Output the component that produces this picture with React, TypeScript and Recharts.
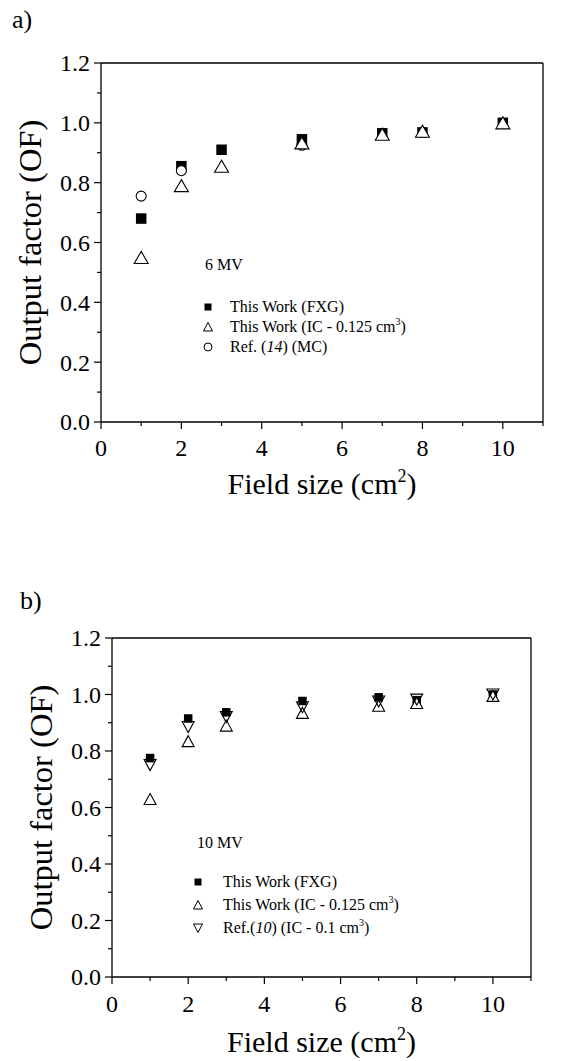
import { ScatterChart, Scatter, XAxis, YAxis, Legend } from 'recharts';

const FONT = 'Liberation Serif, Times New Roman, DejaVu Serif, serif';

// field sizes in cm^2
const fieldSizes = [1, 2, 3, 5, 7, 8, 10];

// a) 6 MV
const fxg6MV = [0.68, 0.855, 0.91, 0.945, 0.965, 0.968, 1.0];
const ic6MV = [0.55, 0.79, 0.855, 0.933, 0.962, 0.972, 1.0];
const mcSizes6MV = [1, 2, 5];
const mc6MV = [0.755, 0.84, 0.925];

// b) 10 MV
const fxg10MV = [0.775, 0.915, 0.937, 0.977, 0.99, 0.98, 1.0];
const ic10MV = [0.63, 0.835, 0.89, 0.935, 0.96, 0.97, 0.995];
const ref10MV = [0.75, 0.885, 0.92, 0.955, 0.975, 0.982, 1.0];

const xTicks = [0, 1, 2, 3, 4, 5, 6, 7, 8, 9, 10, 11];
const yTicks = [0, 0.1, 0.2, 0.3, 0.4, 0.5, 0.6, 0.7, 0.8, 0.9, 1.0, 1.1, 1.2];

const toPoints = (xs: number[], ys: number[]) => xs.map((x, i) => ({ x, y: ys[i] }));

const isMajorX = (v: number) => v % 2 === 0 && v <= 10;
const isMajorY = (v: number) => Math.round(v * 10) % 2 === 0;
const fmtX = (v: number) => String(v);
const fmtY = (v: number) => v.toFixed(1);

type Side = 'top' | 'bottom' | 'left' | 'right';

function makeTick(side: Side, gap: number, isMajor: (v: number) => boolean, fmt: (v: number) => string) {
  return (props: any) => {
    const { x, y, payload } = props;
    const v = payload.value;
    const major = isMajor(v);
    const len = major ? 7 : 4;
    let line;
    let label = null;
    const common = { fontFamily: FONT, fontSize: 24, fill: '#000' };
    if (side === 'bottom') {
      line = <line x1={x} y1={y} x2={x} y2={y + len} stroke="#000" strokeWidth={1.2} />;
      if (major) label = <text x={x} y={y + gap} textAnchor="middle" {...common}>{fmt(v)}</text>;
    } else if (side === 'top') {
      line = <line x1={x} y1={y} x2={x} y2={y - len} stroke="#000" strokeWidth={1.2} />;
      if (major) label = <text x={x} y={y - gap} textAnchor="middle" {...common}>{fmt(v)}</text>;
    } else if (side === 'left') {
      line = <line x1={x} y1={y} x2={x - len} y2={y} stroke="#000" strokeWidth={1.2} />;
      if (major) label = <text x={x - gap} y={y} dy="0.35em" textAnchor="end" {...common}>{fmt(v)}</text>;
    } else {
      line = <line x1={x} y1={y} x2={x + len} y2={y} stroke="#000" strokeWidth={1.2} />;
      if (major) label = <text x={x + gap} y={y} dy="0.35em" textAnchor="start" {...common}>{fmt(v)}</text>;
    }
    return (
      <g>
        {line}
        {label}
      </g>
    );
  };
}

const square = (size: number) => (p: any) => (
  <rect x={p.cx - size / 2} y={p.cy - size / 2} width={size} height={size} fill="#000" />
);
const triUp = (w: number, h: number, fill: string) => (p: any) => (
  <polygon
    points={`${p.cx},${p.cy - h / 2} ${p.cx - w / 2},${p.cy + h / 2} ${p.cx + w / 2},${p.cy + h / 2}`}
    fill={fill}
    stroke="#000"
    strokeWidth={1.1}
  />
);
const triDown = (w: number, h: number, fill: string) => (p: any) => (
  <polygon
    points={`${p.cx},${p.cy + h / 2} ${p.cx - w / 2},${p.cy - h / 2} ${p.cx + w / 2},${p.cy - h / 2}`}
    fill={fill}
    stroke="#000"
    strokeWidth={1.1}
  />
);
const circle = (r: number) => (p: any) => (
  <circle cx={p.cx} cy={p.cy} r={r} fill="#fff" stroke="#000" strokeWidth={1.1} />
);

function Sym({ kind }: { kind: string }) {
  return (
    <svg width={12} height={12} style={{ display: 'block' }}>
      {kind === 'square' && <rect x={2.5} y={2.5} width={7} height={7} fill="#000" />}
      {kind === 'up' && <polygon points="6,1.5 1.5,10 10.5,10" fill="#fff" stroke="#000" strokeWidth={1} />}
      {kind === 'down' && <polygon points="6,10.5 1.5,2 10.5,2" fill="#fff" stroke="#000" strokeWidth={1} />}
      {kind === 'circle' && <circle cx={6} cy={6} r={4} fill="#fff" stroke="#000" strokeWidth={1} />}
    </svg>
  );
}

interface Row {
  kind: string;
  text: React.ReactNode;
}

function legendContent(title: string, titleX: number, titleY: number, symX: number, textX: number, rowY: number[], rows: Row[]) {
  return () => (
    <div style={{ position: 'relative', fontFamily: FONT, fontSize: 16, color: '#000' }}>
      <div style={{ position: 'absolute', left: titleX, top: titleY - 10, lineHeight: '20px', whiteSpace: 'nowrap' }}>{title}</div>
      {rows.map((r, i) => (
        <div key={i}>
          <div style={{ position: 'absolute', left: symX - 6, top: rowY[i] - 6 }}>
            <Sym kind={r.kind} />
          </div>
          <div style={{ position: 'absolute', left: textX, top: rowY[i] - 10, lineHeight: '20px', whiteSpace: 'nowrap' }}>
            {r.text}
          </div>
        </div>
      ))}
    </div>
  );
}

const cm3 = (
  <>
    cm<sup style={{ fontSize: 10, verticalAlign: 'top', lineHeight: '10px' }}>3</sup>
  </>
);

function fieldTitle(cx: number, baseline: number) {
  return () => (
    <text x={cx} y={baseline} textAnchor="middle" fontFamily={FONT} fontSize={30} fill="#000">
      Field size (cm
      <tspan dy={-12} fontSize={18}>2</tspan>
      <tspan dy={12}>)</tspan>
    </text>
  );
}

function ofTitle(x: number, cy: number) {
  return () => (
    <text x={x} y={cy} transform={`rotate(-90, ${x}, ${cy})`} textAnchor="middle" fontFamily={FONT} fontSize={32.5} fill="#000">
      Output factor (OF)
    </text>
  );
}

const axisLine = { stroke: '#000', strokeWidth: 1.3 };

interface PanelProps {
  height: number;
  topH: number;
  bottomH: number;
  leftW: number;
  rightW: number;
  topGap: number;
  bottomGap: number;
  leftGap: number;
  rightGap: number;
  fieldBaseline: number;
  ofX: number;
  children: React.ReactNode;
}

function Panel(p: PanelProps) {
  const plotMid = p.topH + (p.height - p.topH - p.bottomH) / 2;
  const plotCx = p.leftW + (586 - p.leftW - p.rightW) / 2;
  return (
    <ScatterChart width={586} height={p.height} margin={{ top: 0, right: 0, bottom: 0, left: 0 }}>
      <XAxis
        xAxisId="b"
        dataKey="x"
        type="number"
        domain={[0, 11]}
        ticks={xTicks}
        interval={0}
        height={p.bottomH}
        tickSize={0}
        tickMargin={0}
        tickLine={false}
        axisLine={axisLine}
        tick={makeTick('bottom', p.bottomGap, isMajorX, fmtX)}
        label={fieldTitle(plotCx, p.fieldBaseline)}
      />
      <XAxis
        xAxisId="t"
        orientation="top"
        type="number"
        domain={[0, 11]}
        ticks={xTicks}
        interval={0}
        height={p.topH}
        tickSize={0}
        tickMargin={0}
        tickLine={false}
        axisLine={axisLine}
        tick={makeTick('top', p.topGap, isMajorX, fmtX)}
      />
      <YAxis
        yAxisId="l"
        dataKey="y"
        type="number"
        domain={[0, 1.2]}
        ticks={yTicks}
        interval={0}
        width={p.leftW}
        tickSize={0}
        tickMargin={0}
        tickLine={false}
        axisLine={axisLine}
        tick={makeTick('left', p.leftGap, isMajorY, fmtY)}
        label={ofTitle(p.ofX, plotMid)}
      />
      <YAxis
        yAxisId="r"
        orientation="right"
        type="number"
        domain={[0, 1.2]}
        ticks={yTicks}
        interval={0}
        width={p.rightW}
        tickSize={0}
        tickMargin={0}
        tickLine={false}
        axisLine={axisLine}
        tick={makeTick('right', p.rightGap, isMajorY, fmtY)}
      />
      {p.children}
    </ScatterChart>
  );
}

export default function App() {
  return (
    <div style={{ position: 'relative', width: 586, height: 1061, background: '#fff', fontFamily: FONT }}>
      <style>{'body{margin:0;background:#fff}'}</style>
      <div style={{ position: 'absolute', left: 12, top: 5, fontSize: 26, lineHeight: '30px' }}>a)</div>
      <div style={{ position: 'absolute', left: 20, top: 586, fontSize: 26, lineHeight: '30px' }}>b)</div>

      <div style={{ position: 'absolute', left: 0, top: 0 }}>
        <Panel
          height={520}
          topH={63}
          bottomH={98}
          leftW={101}
          rightW={43}
          topGap={17}
          bottomGap={34}
          leftGap={11}
          rightGap={8}
          fieldBaseline={494}
          ofX={41}
        >
          <Scatter xAxisId="b" yAxisId="l" name="This Work (FXG)" data={toPoints(fieldSizes, fxg6MV)} shape={square(10.5)} isAnimationActive={false} />
          <Scatter xAxisId="b" yAxisId="l" name="Ref. (14) (MC)" data={toPoints(mcSizes6MV, mc6MV)} shape={circle(5)} isAnimationActive={false} />
          <Scatter xAxisId="b" yAxisId="l" name="This Work (IC - 0.125 cm3)" data={toPoints(fieldSizes, ic6MV)} shape={triUp(14, 12, '#fff')} isAnimationActive={false} />
          <Legend
            layout="vertical"
            align="center"
            verticalAlign="middle"
            wrapperStyle={{ left: 0, top: 0, width: 586, height: 0 }}
            content={legendContent('6 MV', 205, 265, 208, 230, [307, 327, 347], [
              { kind: 'square', text: 'This Work (FXG)' },
              { kind: 'up', text: <>This Work (IC - 0.125 {cm3})</> },
              { kind: 'circle', text: <>Ref. (<i>14</i>) (MC)</> },
            ])}
          />
        </Panel>
      </div>

      <div style={{ position: 'absolute', left: 0, top: 520 }}>
        <Panel
          height={541}
          topH={118}
          bottomH={84}
          leftW={112}
          rightW={55}
          topGap={12}
          bottomGap={35}
          leftGap={11}
          rightGap={8}
          fieldBaseline={532}
          ofX={52}
        >
          <Scatter xAxisId="b" yAxisId="l" name="This Work (FXG)" data={toPoints(fieldSizes, fxg10MV)} shape={square(8.5)} isAnimationActive={false} />
          <Scatter xAxisId="b" yAxisId="l" name="This Work (IC - 0.125 cm3)" data={toPoints(fieldSizes, ic10MV)} shape={triUp(12, 11, '#fff')} isAnimationActive={false} />
          <Scatter xAxisId="b" yAxisId="l" name="Ref.(10) (IC - 0.1 cm3)" data={toPoints(fieldSizes, ref10MV)} shape={triDown(12, 11, 'none')} isAnimationActive={false} />
          <Legend
            layout="vertical"
            align="center"
            verticalAlign="middle"
            wrapperStyle={{ left: 0, top: 0, width: 586, height: 0 }}
            content={legendContent('10 MV', 197, 323, 198, 223, [362, 385, 408], [
              { kind: 'square', text: 'This Work (FXG)' },
              { kind: 'up', text: <>This Work (IC - 0.125 {cm3})</> },
              { kind: 'down', text: <>Ref.(<i>10</i>) (IC - 0.1 {cm3})</> },
            ])}
          />
        </Panel>
      </div>
    </div>
  );
}
